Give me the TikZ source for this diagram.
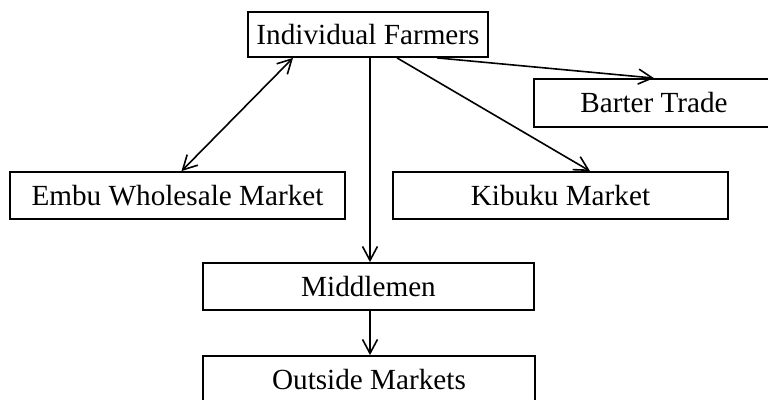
\documentclass[tikz,border=0pt]{standalone}
\usepackage{fontspec}
\setmainfont{Liberation Serif}
\usetikzlibrary{arrows.meta}
\tikzset{
  box/.style={draw, line width=0.9pt, rectangle, inner sep=0pt, font=\fontsize{14.6}{16}\selectfont},
  conn/.style={line width=0.8pt, -{Straight Barb[length=7pt,width=7.5pt,line width=0.8pt]}},
  conn2/.style={line width=0.8pt, {Straight Barb[length=7pt,width=7.5pt,line width=0.8pt]}-{Straight Barb[length=7pt,width=7.5pt,line width=0.8pt]}}
}
\begin{document}
\begin{tikzpicture}[x=0.5pt,y=-0.5pt]
\path[use as bounding box, clip] (0,0) rectangle (768,400);
\fill[white] (0,0) rectangle (768,400);
\node[box, minimum width=120pt, minimum height=22.5pt] (farmers) at (368,34.5) {Individual Farmers};
\node[box, minimum width=120pt, minimum height=24pt] (barter) at (654,103) {Barter Trade};
\node[box, minimum width=167.5pt, minimum height=23.5pt] (embu) at (177.5,195.5) {Embu Wholesale Market};
\node[box, minimum width=167.5pt, minimum height=23.5pt] (kibuku) at (560.5,195.5) {Kibuku Market};
\node[box, minimum width=165.5pt, minimum height=23.5pt] (middle) at (368.5,286.5) {Middlemen};
\node[box, minimum width=166pt, minimum height=23.5pt] (outside) at (369,379.5) {Outside Markets};
\draw[conn2] ([xshift=-37.5pt]farmers.south) -- ([xshift=2pt]embu.north);
\draw[conn] ([xshift=1pt]farmers.south) -- ([xshift=0.75pt]middle.north);
\draw[conn] ([xshift=14.5pt]farmers.south) -- ([xshift=14.75pt]kibuku.north);
\draw[conn] ([xshift=34.5pt]farmers.south) -- (barter.north);
\draw[conn] ([xshift=0.75pt]middle.south) -- ([xshift=0.5pt]outside.north);
\end{tikzpicture}
\end{document}
